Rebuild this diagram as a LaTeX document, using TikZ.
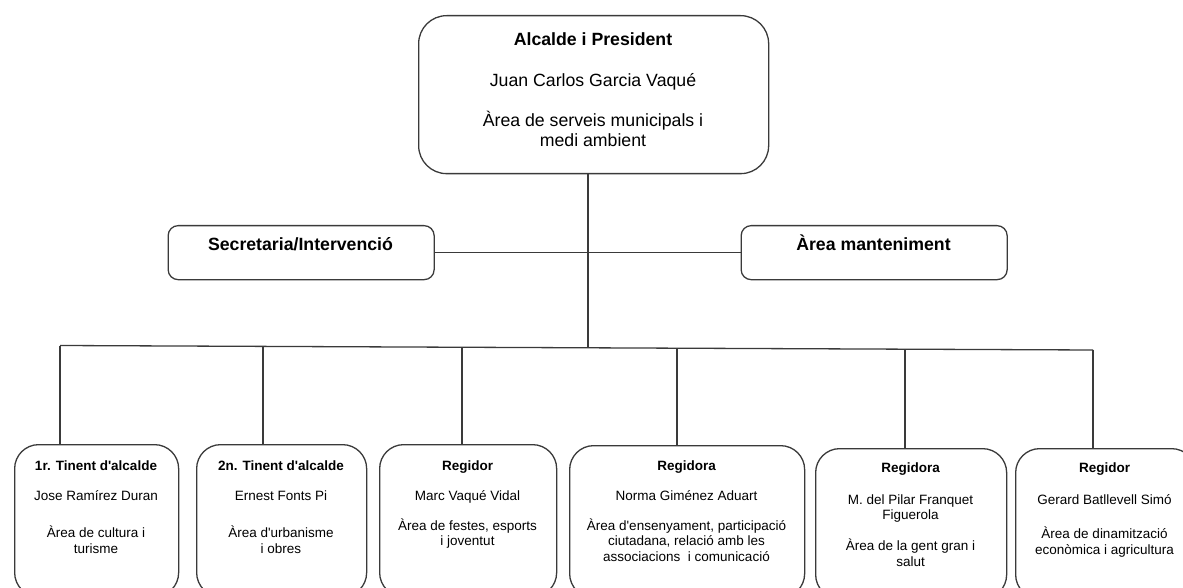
\documentclass[tikz,border=0pt]{standalone}
\usepackage{fontspec}
\setmainfont{Liberation Sans}[Ligatures=TeXOff]
\definecolor{linec}{HTML}{3A3A3A}
\tikzset{
  box/.style={draw=linec, line width=1.3pt, anchor=north west, inner sep=0pt},
  conn/.style={draw=linec, line width=1.3pt},
  bigt/.style={anchor=base, inner sep=0pt, font=\fontsize{17.7}{20}\selectfont},
  smt/.style={anchor=base, inner sep=0pt, font=\fontsize{13.5}{16}\selectfont},
}
\begin{document}
\begin{tikzpicture}[x=1pt,y=-1pt]
\useasboundingbox (0,0) rectangle (1183,588);
\clip (0,0) rectangle (1183,588);
% boxes
\node[box, rounded corners=28pt, minimum width=350pt, minimum height=158pt] (top) at (418,15) {};
\node[box, rounded corners=10pt, minimum width=266pt, minimum height=54pt] (sec) at (167.5,225) {};
\node[box, rounded corners=10pt, minimum width=266pt, minimum height=54pt] (man) at (740.5,225) {};
\node[box, rounded corners=24pt, minimum width=164pt, minimum height=152pt] (b1) at (14,444) {};
\node[box, rounded corners=24pt, minimum width=170pt, minimum height=152pt] (b2) at (196,444) {};
\node[box, rounded corners=24pt, minimum width=177pt, minimum height=152pt] (b3) at (379,444) {};
\node[box, rounded corners=24pt, minimum width=235pt, minimum height=152pt] (b4) at (569,445) {};
\node[box, rounded corners=24pt, minimum width=191pt, minimum height=150pt] (b5) at (815,448) {};
\node[box, rounded corners=24pt, minimum width=180pt, minimum height=150pt] (b6) at (1015,448) {};
% junctions on the bus
\coordinate (jL) at (60,345.5);
\coordinate (j2) at (263,346.4);
\coordinate (j3) at (462,347.3);
\coordinate (jT) at (588,347.8);
\coordinate (j4) at (677,348.2);
\coordinate (j5) at (905,349.2);
\coordinate (jR) at (1093,350);
% connectors
\draw[conn] (jT |- top.south) -- (jT);
\draw[conn] (sec.east) -- (man.west);
\draw[conn] (jL) -- (jR);
\draw[conn] (jL) -- (jL |- b1.north);
\draw[conn] (j2) -- (j2 |- b2.north);
\draw[conn] (j3) -- (j3 |- b3.north);
\draw[conn] (j4) -- (j4 |- b4.north);
\draw[conn] (j5) -- (j5 |- b5.north);
\draw[conn] (jR) -- (jR |- b6.north);
% top texts
\node[bigt, font=\fontsize{17.7}{20}\selectfont\bfseries] (t1) at (593,46) {Alcalde i President};
\node[bigt] (t2) at (593,86.5) {Juan Carlos Garcia Vaqué};
\node[bigt] (t3) at (593,126.5) {Àrea de serveis municipals i};
\node[bigt] (t4) at (593,147) {medi ambient};
\node[bigt, font=\fontsize{17.7}{20}\selectfont\bfseries] (ts) at (300.5,250) {Secretaria/Intervenció};
\node[bigt, font=\fontsize{17.7}{20}\selectfont\bfseries] (tm) at (873.5,250) {Àrea manteniment};
% box 1
\node[smt, font=\fontsize{13.5}{16}\selectfont\bfseries] (a1) at (96,470) {1r. Tinent d'alcalde};
\node[smt] (a2) at (96,500) {Jose Ramírez Duran};
\node[smt] (a3) at (96,537.5) {Àrea de cultura i};
\node[smt] (a4) at (96,553) {turisme};
% box 2
\node[smt, font=\fontsize{13.5}{16}\selectfont\bfseries] (c1) at (281,470) {2n. Tinent d'alcalde};
\node[smt] (c2) at (281,500) {Ernest Fonts Pi};
\node[smt] (c3) at (281,537.5) {Àrea d'urbanisme};
\node[smt] (c4) at (281,553) {i obres};
% box 3
\node[smt, font=\fontsize{13.5}{16}\selectfont\bfseries] (d1) at (467.5,470) {Regidor};
\node[smt] (d2) at (467.5,500) {Marc Vaqué Vidal};
\node[smt] (d3) at (467.5,530) {Àrea de festes, esports};
\node[smt] (d4) at (467.5,545.5) {i joventut};
% box 4
\node[smt, font=\fontsize{13.5}{16}\selectfont\bfseries] (e1) at (686.5,470) {Regidora};
\node[smt] (e2) at (686.5,500) {Norma Giménez Aduart};
\node[smt] (e3) at (686.5,530) {Àrea d'ensenyament, participació};
\node[smt] (e4) at (686.5,545.5) {ciutadana, relació amb les};
\node[smt] (e5) at (686.5,561) {associacions\ \ i comunicació};
% box 5
\node[smt, font=\fontsize{13.5}{16}\selectfont\bfseries] (f1) at (910.5,472.5) {Regidora};
\node[smt] (f2) at (910.5,504) {M. del Pilar Franquet};
\node[smt] (f3) at (910.5,519.5) {Figuerola};
\node[smt] (f4) at (910.5,550.5) {Àrea de la gent gran i};
\node[smt] (f5) at (910.5,566) {salut};
% box 6
\node[smt, font=\fontsize{13.5}{16}\selectfont\bfseries] (g1) at (1104.5,472.5) {Regidor};
\node[smt] (g2) at (1104.5,504) {Gerard Batllevell Simó};
\node[smt] (g3) at (1104.5,538) {Àrea de dinamització};
\node[smt] (g4) at (1104.5,554) {econòmica i agricultura};
\end{tikzpicture}
\end{document}
